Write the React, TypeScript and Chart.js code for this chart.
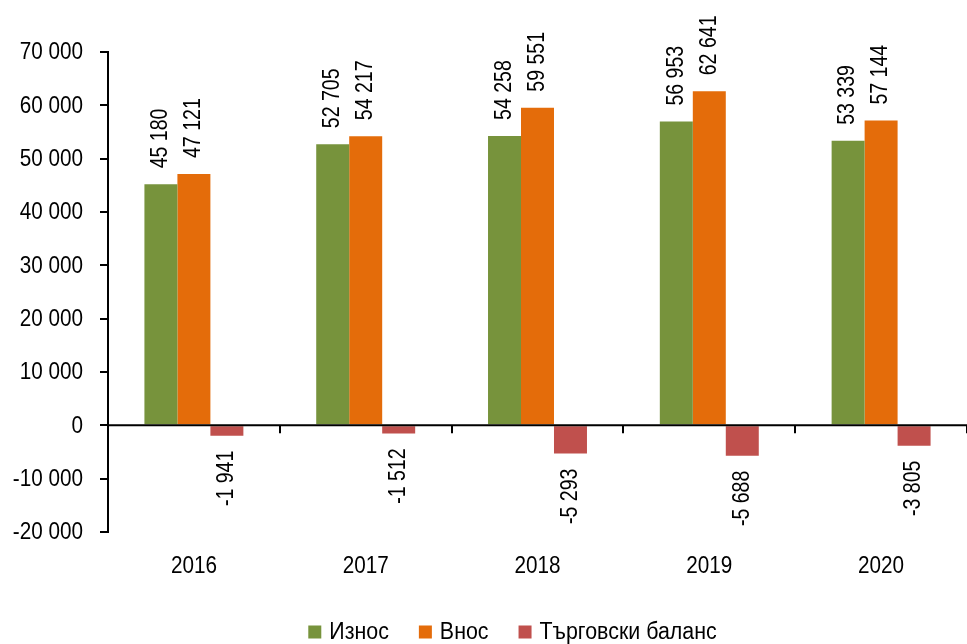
import React, { useEffect, useRef } from "react";
import { Chart, registerables } from "chart.js";

Chart.register(...registerables);

const categories = ["2016", "2017", "2018", "2019", "2020"];
const exportValues = [45180, 52705, 54258, 56953, 53339];
const importValues = [47121, 54217, 59551, 62641, 57144];
const balanceValues = [-1941, -1512, -5293, -5688, -3805];
const seriesNames = ["Износ", "Внос", "Търговски баланс"];
const seriesColors = ["#77933C", "#E46C0A", "#C0504D"];

const FONT = "'Liberation Sans', Arial, sans-serif";

const fmt = (v: number) => {
  const s = Math.abs(Math.round(v)).toString().replace(/\B(?=(\d{3})+(?!\d))/g, " ");
  return (v < 0 ? "-" : "") + s;
};

// draws text horizontally condensed by factor k (Arial Narrow look)
const drawText = (ctx: any, text: string, x: number, y: number, k: number, align: string, rot = 0) => {
  ctx.save();
  ctx.translate(x, y);
  if (rot) ctx.rotate(rot);
  ctx.scale(k, 1);
  ctx.textAlign = align;
  ctx.fillText(text, 0, 0);
  ctx.restore();
};

const decorPlugin = {
  id: "decor",
  afterDatasetsDraw(chart: any) {
    const { ctx, chartArea, scales } = chart;
    const y0 = scales.y.getPixelForValue(0);
    ctx.save();
    ctx.strokeStyle = "#000";
    ctx.lineWidth = 2;
    ctx.beginPath();
    ctx.moveTo(chartArea.left, y0);
    ctx.lineTo(chartArea.right, y0);
    const n = categories.length;
    const w = (chartArea.right - chartArea.left) / n;
    for (let i = 1; i <= n; i++) {
      const x = Math.round(chartArea.left + i * w);
      ctx.moveTo(x, y0);
      ctx.lineTo(x, y0 + 8);
    }
    ctx.stroke();

    ctx.fillStyle = "#000";
    ctx.font = `23px ${FONT}`;
    ctx.textBaseline = "middle";
    chart.data.datasets.forEach((ds: any, di: number) => {
      const meta = chart.getDatasetMeta(di);
      meta.data.forEach((bar: any, i: number) => {
        const v = ds.data[i];
        if (v >= 0) drawText(ctx, fmt(v), bar.x, bar.y - 16, 0.85, "left", -Math.PI / 2);
        else drawText(ctx, fmt(v), bar.x, bar.y + 15, 0.85, "right", -Math.PI / 2);
      });
    });

    // y tick labels
    ctx.font = `23px ${FONT}`;
    const ys = scales.y;
    ys.ticks.forEach((t: any) => {
      drawText(ctx, fmt(t.value), 83, ys.getPixelForValue(t.value) + 1, 0.9, "right");
    });
    // x category labels
    const xs = scales.x;
    categories.forEach((c, i) => {
      drawText(ctx, c, xs.getPixelForValue(i), 567, 0.9, "center");
    });
    ctx.restore();
  },
  afterDraw(chart: any) {
    const { ctx, width } = chart;
    ctx.save();
    ctx.font = `23px ${FONT}`;
    ctx.textBaseline = "middle";
    ctx.textAlign = "left";
    const k = 0.93;
    const box = 13;
    const gapText = 8;
    const gapItem = 30;
    const widths = seriesNames.map((s) => ctx.measureText(s).width * k);
    let total = 0;
    widths.forEach((tw, i) => {
      total += box + gapText + tw + (i < widths.length - 1 ? gapItem : 0);
    });
    let x = (width - total) / 2 + 29;
    const yc = 632;
    seriesNames.forEach((s, i) => {
      ctx.fillStyle = seriesColors[i];
      ctx.fillRect(x, yc - box / 2, box, box);
      ctx.fillStyle = "#000";
      drawText(ctx, s, x + box + gapText, yc + 1, k, "left");
      x += box + gapText + widths[i] + gapItem;
    });
    ctx.restore();
  },
};

export default function App() {
  const ref = useRef<HTMLCanvasElement | null>(null);
  useEffect(() => {
    if (!ref.current) return;
    const chart = new Chart(ref.current, {
      type: "bar",
      data: {
        labels: categories,
        datasets: [exportValues, importValues, balanceValues].map((d, i) => ({
          label: seriesNames[i],
          data: d,
          backgroundColor: seriesColors[i],
          borderWidth: 0,
          categoryPercentage: 0.576,
          barPercentage: 1,
        })),
      },
      options: {
        responsive: true,
        maintainAspectRatio: false,
        animation: false,
        layout: { padding: { top: 52, left: 0, right: 0, bottom: 52 } },
        plugins: {
          tooltip: { enabled: false },
          legend: { display: false },
        },
        scales: {
          x: {
            grid: { display: false },
            border: { display: false },
            afterFit: (s: any) => {
              s.height = 60;
            },
            ticks: { color: "rgba(0,0,0,0)", padding: 20, font: { family: FONT, size: 22 } },
          },
          y: {
            min: -20000,
            max: 70000,
            afterFit: (s: any) => {
              s.width = 108;
            },
            border: { display: true, color: "#000", width: 2 },
            grid: { drawOnChartArea: false, drawTicks: true, tickLength: 8, color: "#000", lineWidth: 2 },
            ticks: {
              stepSize: 10000,
              padding: 17,
              color: "rgba(0,0,0,0)",
              font: { family: FONT, size: 21 },
              callback: (v: any) => fmt(Number(v)),
            },
          },
        },
      },
      plugins: [decorPlugin],
    });
    return () => chart.destroy();
  }, []);
  return (
    <div style={{ position: "fixed", left: 0, top: 0, width: 967, height: 644 }}>
      <canvas ref={ref} />
    </div>
  );
}
